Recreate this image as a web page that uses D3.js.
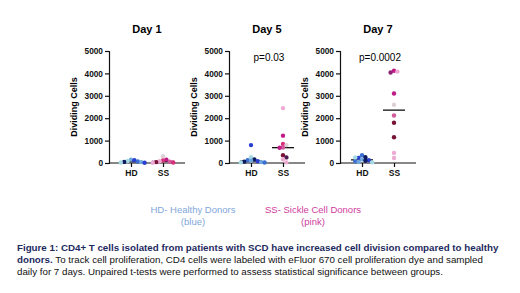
<!DOCTYPE html>
<html lang="en">
<head>
    <script src="https://d3js.org/d3.v7.min.js"></script>
    <style>
        body { margin: 0; background: white; }
        svg { font-family: 'Liberation Sans', Arial, sans-serif; }
    </style>
</head>
<body>
<script>
    var width = 520, height = 293;

    // data
    var days = ["Day 1", "Day 5", "Day 7"];
    var groups = ["HD", "SS"];
    var pValues = ["", "p=0.03", "p=0.0002"];
    var yTicks = [0, 1000, 2000, 3000, 4000, 5000];

    var day1HD = [150, 120, 90, 70, 50, 40, 20, 10];
    var day1SS = [300, 150, 110, 80, 60, 40, 20, 10];
    var day5HD = [800, 260, 160, 120, 100, 80, 60, 40, 30, 20];
    var day5SS = [2450, 1220, 850, 800, 690, 680, 350, 250, 170, 30];
    var day7HD = [350, 260, 230, 160, 120, 100, 80, 50, 250, 30];
    var day7SS = [4120, 4080, 4040, 3100, 2600, 2120, 1800, 1150, 450, 220];

    // donor index of each point (matches the values above)
    var day1HDDonor = [2, 0, 3, 4, 1, 2, 3, 0];
    var day1SSDonor = [5, 0, 1, 2, 3, 4, 1, 2];
    var day5HDDonor = [0, 3, 1, 4, 2, 0, 1, 2, 3, 4];
    var day5SSDonor = [2, 0, 1, 5, 3, 0, 4, 6, 2, 2];
    var day7HDDonor = [4, 1, 0, 2, 0, 1, 4, 2, 3, 3];
    var day7SSDonor = [0, 2, 7, 0, 5, 3, 4, 4, 2, 2];

    var dayData = [
        [{v: day1HD, d: day1HDDonor}, {v: day1SS, d: day1SSDonor}],
        [{v: day5HD, d: day5HDDonor}, {v: day5SS, d: day5SSDonor}],
        [{v: day7HD, d: day7HDDonor}, {v: day7SS, d: day7SSDonor}]
    ];

    var hdColors = ["#2a3fcf", "#0c1a5e", "#6ea6de", "#a6dbe3", "#3b6fd1"];
    var ssColors = ["#c01a86", "#d7307a", "#eeaad2", "#d35a9a", "#7a1238", "#ddd0d6", "#4b1a4f", "#8e1f75"];

    var svg = d3.select("body").append("svg").attr("width", width).attr("height", height);

    var axisX = [109, 229, 340];
    var plotW = 76, plotTop = 51, plotBottom = 163;
    var y = d3.scaleLinear().domain([0, 5000]).range([plotBottom, plotTop]);
    var r = 2.2, gap = 3.4;

    // simple deterministic swarm: step sideways until no overlap
    function swarm(vals, cx) {
        var placed = [];
        return vals.map(function(v, i) {
            var py = y(v);
            var k = 0, px;
            while (true) {
                var off = (k % 2 === 1 ? 1 : -1) * Math.ceil(k / 2) * gap;
                px = cx + off;
                var hit = placed.some(function(p) {
                    return Math.hypot(p[0] - px, p[1] - py) < gap;
                });
                if (!hit) break;
                k++;
            }
            placed.push([px, py]);
            return {x: px, y: py, i: i};
        });
    }

    days.forEach(function(day, di) {
        var x0 = axisX[di];
        var g = svg.append("g");
        var x = d3.scalePoint().domain(groups).range([x0 + 22, x0 + 54]);

        g.append("text").attr("x", x0 + 38).attr("y", 33)
            .attr("text-anchor", "middle").attr("font-size", 11).attr("font-weight", "bold")
            .text(day);

        if (pValues[di]) {
            g.append("text").attr("x", x0 + 40).attr("y", 61)
                .attr("text-anchor", "middle").attr("font-size", 10)
                .text(pValues[di]);
        }

        var yAxis = g.append("g").attr("transform", "translate(" + x0 + ",0)")
            .call(d3.axisLeft(y).tickValues(yTicks).tickFormat(d3.format("d")).tickSize(4).tickPadding(2));
        yAxis.selectAll("text").attr("font-size", 8.3).attr("font-weight", "bold")
            .attr("font-family", "'Liberation Sans', Arial, sans-serif").attr("fill", "#111");
        yAxis.select(".domain").attr("stroke", "#111").attr("stroke-width", 1.2);
        yAxis.selectAll(".tick line").attr("stroke", "#111").attr("stroke-width", 1.2);

        var xAxis = g.append("g").attr("transform", "translate(0," + plotBottom + ")")
            .call(d3.axisBottom(x).tickSize(4).tickPadding(3).tickSizeOuter(0));
        xAxis.select(".domain").attr("d", "M" + x0 + ",0H" + (x0 + plotW))
            .attr("stroke", "#111").attr("stroke-width", 1.2);
        xAxis.selectAll(".tick line").attr("stroke", "#111").attr("stroke-width", 1.2);
        xAxis.selectAll("text").attr("font-size", 8.5).attr("font-weight", "bold")
            .attr("font-family", "'Liberation Sans', Arial, sans-serif").attr("fill", "#111");

        g.append("text")
            .attr("transform", "translate(" + (x0 - 32) + "," + ((plotTop + plotBottom) / 2) + ") rotate(-90)")
            .attr("text-anchor", "middle").attr("font-size", 9).attr("font-weight", "bold")
            .text("Dividing Cells");

        dayData[di].forEach(function(grp, gi) {
            var cx = x(groups[gi]);
            var pal = gi === 0 ? hdColors : ssColors;
            var med = d3.median(grp.v);
            g.append("line")
                .attr("x1", cx - 11).attr("x2", cx + 11)
                .attr("y1", y(med)).attr("y2", y(med))
                .attr("stroke", "#111").attr("stroke-width", 1.3);
            g.selectAll("circle.g" + gi)
                .data(swarm(grp.v, cx))
                .join("circle")
                .attr("class", "g" + gi)
                .attr("cx", function(d) { return d.x; })
                .attr("cy", function(d) { return d.y; })
                .attr("r", r)
                .attr("fill", function(d) { return pal[grp.d[d.i]]; });
        });
    });

    // legend
    var legend = [
        {lines: ["HD- Healthy Donors", "(blue)"], x: 193, color: "#7fa6da"},
        {lines: ["SS- Sickle Cell Donors", "(pink)"], x: 313, color: "#d03c9e"}
    ];
    legend.forEach(function(l) {
        l.lines.forEach(function(t, i) {
            svg.append("text").attr("x", l.x).attr("y", 213 + i * 11.5)
                .attr("text-anchor", "middle").attr("font-size", 9.5)
                .attr("fill", l.color).text(t);
        });
    });

    // caption
    var cap = svg.append("g").attr("font-size", 9.75);
    var t1 = cap.append("text").attr("x", 17).attr("y", 251);
    t1.append("tspan").attr("font-weight", "bold").attr("fill", "#1d2a5e")
        .text("Figure 1: CD4+ T cells isolated from patients with SCD have increased cell division compared to healthy");
    var t2 = cap.append("text").attr("x", 17).attr("y", 263);
    t2.append("tspan").attr("font-weight", "bold").attr("fill", "#1d2a5e").text("donors.");
    t2.append("tspan").attr("fill", "#111")
        .text(" To track cell proliferation, CD4 cells were labeled with eFluor 670 cell proliferation dye and sampled");
    cap.append("text").attr("x", 17).attr("y", 275).attr("fill", "#111")
        .text("daily for 7 days. Unpaired t-tests were performed to assess statistical significance between groups.");
</script>
</body>
</html>
